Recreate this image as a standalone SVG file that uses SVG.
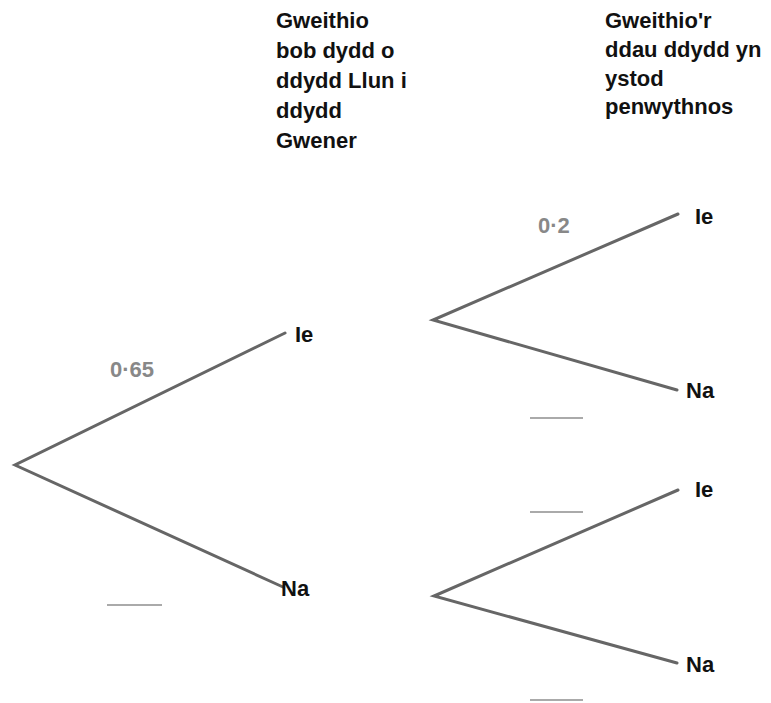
<svg xmlns="http://www.w3.org/2000/svg" width="771" height="703" viewBox="0 0 771 703">
<style>
.t{font-family:"Liberation Sans",Arial,sans-serif;font-weight:bold;font-size:22px;fill:#111}
.p{font-family:"Liberation Sans",Arial,sans-serif;font-weight:bold;font-size:22px;fill:#888}
.b{stroke:#666;stroke-width:3;fill:none;stroke-linecap:round}
.s{stroke:#aaa;stroke-width:2}
</style>
<rect width="771" height="703" fill="#fff"/>
<g id="head1"><text class="t"><tspan x="276" y="28">Gweithio</tspan><tspan x="276" y="58">bob dydd o</tspan><tspan x="276" y="88">ddydd Llun i</tspan><tspan x="276" y="118">ddydd</tspan><tspan x="276" y="148">Gwener</tspan></text></g>
<g id="head2"><text class="t"><tspan x="605" y="28">Gweithio'r</tspan><tspan x="605" y="57">ddau ddydd yn</tspan><tspan x="605" y="86">ystod</tspan><tspan x="605" y="114">penwythnos</tspan></text></g>
<g id="connectors">
<path class="b" d="M285,333 L15,465 L283,587"/>
<path class="b" d="M678,214 L433,320 L677,390"/>
<path class="b" d="M678,490 L434,596 L677,663"/>
</g>
<g id="n1"><text class="t" x="295" y="342">Ie</text></g>
<g id="n2"><text class="t" x="281" y="596">Na</text></g>
<g id="n3"><text class="t" x="695" y="224">Ie</text></g>
<g id="n4"><text class="t" x="686" y="398">Na</text></g>
<g id="n5"><text class="t" x="695" y="497">Ie</text></g>
<g id="n6"><text class="t" x="686" y="672">Na</text></g>
<g id="labels">
<text class="p" x="110" y="377">0·65</text>
<text class="p" x="538" y="233">0·2</text>
<line class="s" x1="107" y1="605" x2="162" y2="605"/>
<line class="s" x1="530" y1="418" x2="583" y2="418"/>
<line class="s" x1="530" y1="512" x2="583" y2="512"/>
<line class="s" x1="530" y1="700" x2="583" y2="700"/>
</g>
</svg>
